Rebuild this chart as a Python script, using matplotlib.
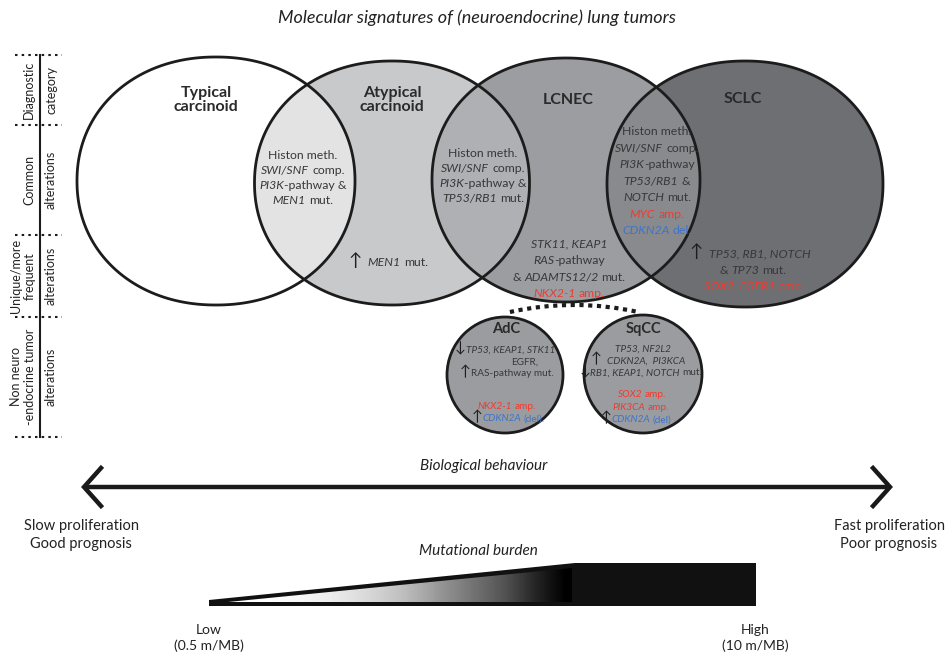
import re
import numpy as np
import matplotlib.pyplot as plt
from matplotlib.path import Path
from matplotlib.patches import PathPatch, Circle, Polygon, Arc

plt.rcParams["font.family"] = ["Lato", "DejaVu Sans"]

# === DATA ===
title = "Molecular signatures of (neuroendocrine) lung tumors"
tumor_names = ["Typical\ncarcinoid", "Atypical\ncarcinoid", "LCNEC", "SCLC"]
side_labels = [
    ["Diagnostic", "category"],
    ["Common", "alterations"],
    ["Unique/more", "frequent", "alterations"],
    ["Non neuro", "-endocrine tumor", "alterations"],
]

# *...* marks italic gene names, second item is colour key (k text, r amp, b del)
common_tc_ac = [("Histon meth.", "k"), ("*SWI/SNF* comp.", "k"),
                ("*PI3K*-pathway &", "k"), ("*MEN1* mut.", "k")]
common_ac_lc = [("Histon meth.", "k"), ("*SWI/SNF* comp.", "k"),
                ("*PI3K*-pathway &", "k"), ("*TP53/RB1* mut.", "k")]
common_lc_sc = [("Histon meth.", "k"), ("*SWI/SNF* comp.", "k"),
                ("*PI3K*-pathway", "k"), ("*TP53/RB1* &", "k"),
                ("*NOTCH* mut.", "k"), ("*MYC* amp.", "r"), ("*CDKN2A* del.", "b")]
unique_ac = [("↑ *MEN1* mut.", "k")]
unique_lc = [("*STK11, KEAP1*", "k"), ("*RAS*-pathway", "k"),
             ("& *ADAMTS12/2* mut.", "k"), ("*NKX2-1* amp.", "r")]
unique_sc = [("↑ *TP53, RB1, NOTCH*", "k"), ("& *TP73* mut.", "k"),
             ("*SOX2, FGFR1* amp.", "r")]

nonne_names = ["AdC", "SqCC"]
adc_lines = [("↓*TP53, KEAP1, STK11*", "k"), ("EGFR,", "k"), ("↑RAS-pathway mut.", "k"),
             ("*NKX2-1* amp.", "r"), ("↑*CDKN2A* (del).", "b")]
sqcc_lines = [("*TP53, NF2L2*", "k"), ("↑ *CDKN2A,  PI3KCA*", "k"),
              ("↓*RB1, KEAP1, NOTCH* mut.", "k"), ("*SOX2* amp.", "r"),
              ("*PIK3CA* amp.", "r"), ("↑*CDKN2A* (del)", "b")]

behaviour_label = "Biological behaviour"
left_end = ["Slow proliferation", "Good prognosis"]
right_end = ["Fast proliferation", "Poor prognosis"]
burden_label = "Mutational burden"
burden_low = ["Low", "(0.5 m/MB)"]
burden_high = ["High", "(10 m/MB)"]

# === LAYOUT ===
ell_x = [216, 392, 566, 745]
ell_y = [181, 183, 180, 184]
ell_w = [278, 275, 268, 276]
ell_h = [248, 244, 244, 246]
ell_fill = ["#ffffff", "#c8c9cb", "#9b9da1", "#6d6f73"]
lens_fill = ["#e3e3e4", "#aeb0b3", "#888a8e"]
COLORS = {"k": "#383838", "r": "#f23a2c", "b": "#3f74c8"}
EDGE = "#1c1c1c"

fig = plt.figure(figsize=(9.51, 6.60), dpi=100)
ax = fig.add_axes([0, 0, 1, 1])
ax.set_xlim(0, 951)
ax.set_ylim(660, 0)
ax.axis("off")
renderer = fig.canvas.get_renderer()

TOKENS = re.compile(r"\*[^*]+\*|[↑↓]|[^*↑↓]+")
_space = {}


def space_width(size):
    if size not in _space:
        a = ax.text(0, 0, "x x", fontsize=size)
        b = ax.text(0, 0, "xx", fontsize=size)
        _space[size] = a.get_window_extent(renderer).width - b.get_window_extent(renderer).width
        a.remove()
        b.remove()
    return _space[size]


def rich(x, y, markup, ckey, size):
    color = COLORS[ckey]
    base = y + 0.34 * size * 100 / 72
    sp = space_width(size)
    items, cur = [], 0.0
    for tok in TOKENS.findall(markup):
        if tok in ("↑", "↓"):
            s, st, c, fs = tok, "normal", "#1e1e1e", size * 1.45
        elif tok.startswith("*"):
            s, st, c, fs = tok[1:-1], "italic", color, size
        else:
            s, st, c, fs = tok, "normal", color, size
        lead = len(s) - len(s.lstrip(" "))
        trail = len(s) - len(s.rstrip(" "))
        s = s.strip(" ")
        cur += lead * sp
        if s:
            t = ax.text(cur, base, s, fontsize=fs, style=st, color=c,
                        ha="left", va="baseline", zorder=6)
            items.append((t, cur))
            cur += t.get_window_extent(renderer).width
        cur += trail * sp
    x0 = x - cur / 2
    for t, off in items:
        t.set_x(x0 + off)


def block(xs, ys, lines, size):
    if np.isscalar(xs):
        xs = [xs] * len(lines)
    for x, y, (m, c) in zip(xs, ys, lines):
        rich(x, y, m, c, size)


def blob(cx, cy, w, h, n=2.1, **kw):
    t = np.linspace(0, 2 * np.pi, 721)
    c, s = np.cos(t), np.sin(t)
    x = cx + w / 2 * np.sign(c) * np.abs(c) ** (2 / n)
    y = cy + h / 2 * np.sign(s) * np.abs(s) ** (2 / n)
    return PathPatch(Path(np.column_stack([x, y]), closed=True), **kw)


# === Venn shapes ===
ells = []
for i in range(4):
    e = blob(ell_x[i], ell_y[i], ell_w[i], ell_h[i], facecolor=ell_fill[i],
             edgecolor="none", zorder=1)
    ax.add_patch(e)
    ells.append(e)
for i in range(3):
    lens = blob(ell_x[i + 1], ell_y[i + 1], ell_w[i + 1], ell_h[i + 1],
                facecolor=lens_fill[i], edgecolor="none", zorder=2)
    ax.add_patch(lens)
    lens.set_clip_path(ells[i])
for i in range(4):
    ax.add_patch(blob(ell_x[i], ell_y[i], ell_w[i], ell_h[i], fill=False,
                      edgecolor=EDGE, lw=2, zorder=3))

label_pos = [(206, 100), (392, 100), (568, 100), (743, 99)]
for name, (lx, ly) in zip(tumor_names, label_pos):
    ax.text(lx, ly, name, fontsize=11.5, fontweight="bold", color="#2a2a2a",
            ha="center", va="center", linespacing=1.05, zorder=6)

block(303, [155, 170, 185, 200], common_tc_ac, 8.8)
block(483, [153, 168, 183, 198], common_ac_lc, 8.8)
block(657, [131, 147.5, 164, 180.5, 197, 213.5, 230], common_lc_sc, 8.8)
block(388, [262], unique_ac, 8.8)
block(569, [243, 260, 277, 293], unique_lc, 8.8)
block([750, 753, 754], [253, 269.5, 285.5], unique_sc, 8.8)

# === non-neuroendocrine circles ===
ax.add_patch(Arc((574, 601), 592, 592, theta1=257.5, theta2=282.5, color=EDGE,
                 lw=3, linestyle=(0, (1, 1.1)), zorder=3))
for (ccx, ccy, r), name in zip([(505, 375, 58), (643, 374, 59)], nonne_names):
    ax.add_patch(Circle((ccx, ccy), r, facecolor="#9a9c9f", edgecolor=EDGE, lw=2, zorder=3))
    ax.text(ccx + 1, 329, name, fontsize=10.5, fontweight="bold", color="#2a2a2a",
            ha="center", va="center", zorder=6)

block([505, 525, 507, 507, 508], [349, 361, 373, 406, 418], adc_lines, 7.2)
block([643, 638, 641, 642, 641, 636], [348, 360, 372, 394, 407, 419], sqcc_lines, 7.2)

# === side row labels ===
ax.plot([40, 40], [55, 437], color=EDGE, lw=1.5, zorder=4)
for yy in [55, 125, 235, 317, 437]:
    ax.plot([15, 62], [yy, yy], color=EDGE, lw=1.5, linestyle=(0, (1.2, 2)), zorder=4)
sections = [(55, 125), (125, 235), (235, 317), (317, 437)]
for lines, (ya, yb) in zip(side_labels, sections):
    xs = [29, 51] if len(lines) == 2 else [16, 30, 51]
    for s, xx in zip(lines, xs):
        ax.text(xx, (ya + yb) / 2, s, rotation=90, fontsize=9, color="#222222",
                ha="center", va="center", zorder=6)

# === title ===
ax.text(477, 18, title, fontsize=13, style="italic", color="#222222",
        ha="center", va="center")

# === behaviour arrow ===
ax.text(484, 466, behaviour_label, fontsize=11, style="italic", color="#222222",
        ha="center", va="center")
ax.plot([84, 890], [487, 487], color="#1a1a1a", lw=3.2, solid_capstyle="butt")
ax.plot([101, 84, 101], [468, 487, 506], color="#1a1a1a", lw=3.2,
        solid_joinstyle="miter")
ax.plot([873, 890, 873], [468, 487, 506], color="#1a1a1a", lw=3.2,
        solid_joinstyle="miter")
ax.text(81, 535, "\n".join(left_end), fontsize=10.5, color="#222222",
        ha="center", va="center", linespacing=1.35)
ax.text(889, 535, "\n".join(right_end), fontsize=10.5, color="#222222",
        ha="center", va="center", linespacing=1.35)

# === mutational burden wedge ===
ax.text(478, 551, burden_label, fontsize=11, style="italic", color="#222222",
        ha="center", va="center")
ax.add_patch(Polygon([(209, 600), (575, 563), (756, 563), (756, 606), (209, 606)],
                     closed=True, facecolor="#111111", edgecolor="none", zorder=2))
inner = Polygon([(228, 602), (572, 568), (572, 602)], closed=True,
                facecolor="none", edgecolor="none")
ax.add_patch(inner)
grad = np.clip((np.linspace(228, 572, 300) - 262) / (566 - 262), 0, 1)[None, :] ** 1.3
im = ax.imshow(grad, cmap="Greys", vmin=0, vmax=1, extent=(228, 572, 602, 566),
               aspect="auto", interpolation="bilinear", zorder=3)
im.set_clip_path(inner)
ax.text(209, 638, "\n".join(burden_low), fontsize=10, color="#222222",
        ha="center", va="center", linespacing=1.3)
ax.text(755, 638, "\n".join(burden_high), fontsize=10, color="#222222",
        ha="center", va="center", linespacing=1.3)

ax.set_xlim(0, 951)
ax.set_ylim(660, 0)
fig.savefig("out.png", dpi=100, facecolor="white")
